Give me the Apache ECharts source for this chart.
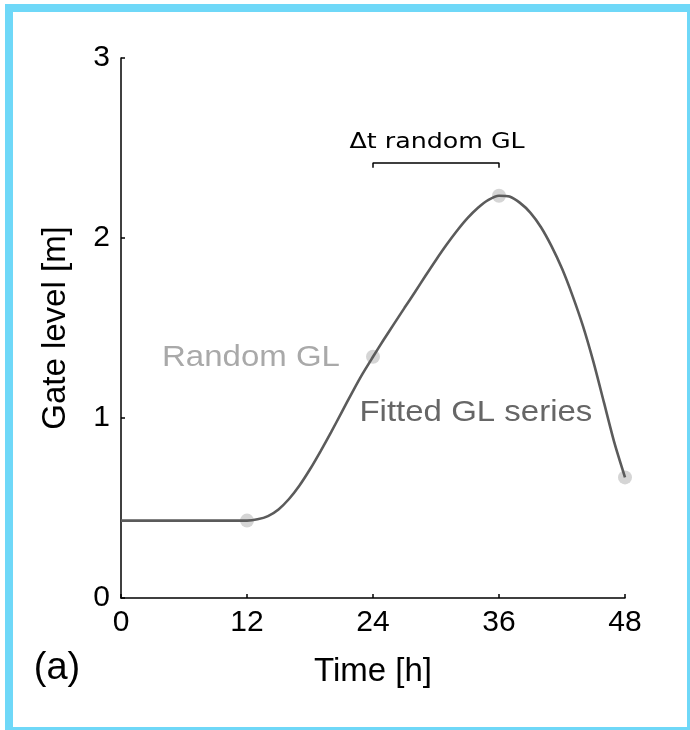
<!DOCTYPE html>
<html>
<head>
<meta charset="utf-8">
<script src="https://cdn.jsdelivr.net/npm/echarts@6/dist/echarts.min.js"></script>
<style>
html,body{margin:0;padding:0;background:#fff;width:690px;height:730px;overflow:hidden;}
#frame{position:absolute;left:5px;top:4px;width:690px;height:731px;box-sizing:border-box;border:8px solid #6fd8f8;pointer-events:none;z-index:2;}
#chart{position:absolute;left:0;top:0;width:690px;height:730px;}
</style>
</head>
<body>
<div id="chart"></div>
<div id="frame"></div>
<script>
// Time ticks (h) and gate-level ticks (m)
const xTicks = [0, 12, 24, 36, 48];
const yTicks = [0, 1, 2, 3];
// Fitted gate-level series (hour, level m)
const fitHours  = [0, 6, 12, 13, 14, 15, 16, 17, 18, 19, 20, 21, 22, 23, 24, 25, 26, 27, 28, 29, 30, 31, 32, 33, 34, 35, 36, 37, 38, 39, 40, 41, 42, 43, 44, 45, 46, 47, 48];
const fitLevels = [0.43, 0.43, 0.43, 0.437, 0.455, 0.492, 0.55, 0.625, 0.715, 0.815, 0.92, 1.03, 1.14, 1.245, 1.34, 1.433, 1.523, 1.612, 1.70, 1.79, 1.878, 1.962, 2.04, 2.11, 2.168, 2.212, 2.235, 2.23, 2.195, 2.14, 2.06, 1.955, 1.83, 1.68, 1.51, 1.31, 1.085, 0.86, 0.67];
// Random gate levels
const randHours  = [12, 24, 36, 48];
const randLevels = [0.43, 1.34, 2.235, 0.67];
// Δt bracket (between random GL points at 24 h and 36 h)
const bracketHours  = [24, 24, 36, 36];
const bracketLevels = [2.39, 2.417, 2.417, 2.39];

const chart = echarts.init(document.getElementById('chart'), null, {renderer: 'canvas'});
const font = 'Liberation Sans, Arial, Helvetica, sans-serif';
const option = {
  animation: false,
  backgroundColor: '#ffffff',
  grid: {left: 121, top: 58, right: 65, bottom: 132, containLabel: false},
  xAxis: {
    type: 'value', min: xTicks[0], max: xTicks[xTicks.length-1], interval: 12,
    name: 'Time [h]', nameLocation: 'middle', nameGap: 57,
    nameTextStyle: {color: '#000', fontSize: 33, fontFamily: font},
    axisLine: {show: true, lineStyle: {color: '#000', width: 1.5}},
    axisTick: {show: true, inside: true, length: 4, lineStyle: {color: '#000', width: 1.5}},
    axisLabel: {color: '#000', fontSize: 30, fontFamily: font, margin: 10},
    splitLine: {show: false}
  },
  yAxis: {
    type: 'value', min: yTicks[0], max: yTicks[yTicks.length-1], interval: 1,
    name: 'Gate level [m]', nameLocation: 'middle', nameGap: 49, nameRotate: 90,
    nameTextStyle: {color: '#000', fontSize: 33, fontFamily: font},
    axisLine: {show: true, lineStyle: {color: '#000', width: 1.5}},
    axisTick: {show: true, inside: true, length: 4, lineStyle: {color: '#000', width: 1.5}},
    axisLabel: {color: '#000', fontSize: 30, fontFamily: font, margin: 11},
    splitLine: {show: false}
  },
  series: [
    {
      name: 'Random GL', type: 'scatter', z: 1,
      data: randHours.map((h, i) => [h, randLevels[i]]),
      symbol: 'circle', symbolSize: 14,
      itemStyle: {color: '#cbcbcb'}
    },
    {
      name: 'Fitted GL series', type: 'line', z: 2, smooth: 0.25,
      data: fitHours.map((h, i) => [h, fitLevels[i]]),
      showSymbol: false, symbol: 'none',
      lineStyle: {color: '#5b5b5b', width: 2.6}
    },
    {
      name: 'bracket', type: 'line', z: 3, smooth: false,
      data: bracketHours.map((h, i) => [h, bracketLevels[i]]),
      showSymbol: false, symbol: 'none',
      lineStyle: {color: '#000', width: 1.5}
    }
  ]
};
chart.setOption(option);

function px(h, v){ return chart.convertToPixel({gridIndex: 0}, [h, v]); }
const pDelta = px(30.1, 2.533);
const pRand = px(12.38, 1.333);
const pFit  = px(33.8, 1.03);
const pA = px(-6.1, -0.394);
chart.setOption({
  graphic: [
    {type: 'text', x: pDelta[0], y: pDelta[1], scaleX: 1.15, style: {text: 'Δt random GL', fill: '#000', font: '22px "DejaVu Sans", Verdana, sans-serif', textAlign: 'center', textVerticalAlign: 'middle'}},
    {type: 'text', x: pRand[0], y: pRand[1], scaleX: 1.1, style: {text: 'Random GL', fill: '#a9a9a9', font: '30px ' + font, textAlign: 'center', textVerticalAlign: 'middle'}},
    {type: 'text', x: pFit[0], y: pFit[1], scaleX: 1.1, style: {text: 'Fitted GL series', fill: '#666666', font: '30px ' + font, textAlign: 'center', textVerticalAlign: 'middle'}},
    {type: 'text', x: pA[0], y: pA[1], style: {text: '(a)', fill: '#000', font: '38px ' + font, textAlign: 'center', textVerticalAlign: 'middle'}}
  ]
});
</script>
</body>
</html>
